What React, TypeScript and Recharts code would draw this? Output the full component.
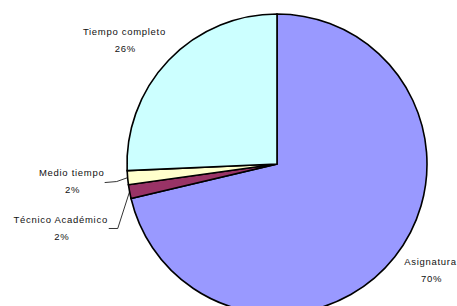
import React from "react";
import { PieChart, Pie, Cell } from "recharts";

const categories = ["Asignatura", "Técnico Académico", "Medio tiempo", "Tiempo completo"];
const values = [71.3, 1.5, 1.5, 25.7];
const percentLabels = ["70%", "2%", "2%", "26%"];
const colors = ["#9999FF", "#993366", "#FFFFCC", "#CCFFFF"];

const data = categories.map((name, i) => ({ name, value: values[i] }));

// label placement adjustments (dx, dy from polar point at outerRadius + 10)
const labelShift = [
  { dx: 28, dy: -2 },
  { dx: -59, dy: 26 },
  { dx: -46, dy: -6 },
  { dx: -37, dy: -22 },
];

const RADIAN = Math.PI / 180;

const renderLabel = (props: any) => {
  const { cx, cy, midAngle, outerRadius, index } = props;
  const r = outerRadius + 10;
  const px = cx + r * Math.cos(-midAngle * RADIAN);
  const py = cy + r * Math.sin(-midAngle * RADIAN);
  const s = labelShift[index];
  const x = px + s.dx;
  const y = py + s.dy;
  const ex = cx + outerRadius * Math.cos(-midAngle * RADIAN);
  const ey = cy + outerRadius * Math.sin(-midAngle * RADIAN);
  let leader: React.ReactNode = null;
  if (index === 1) {
    leader = (
      <polyline
        points={`${ex},${ey} ${x + 57},${y + 9} ${x + 48},${y + 9}`}
        fill="none"
        stroke="#000"
        strokeWidth={0.8}
      />
    );
  } else if (index === 2) {
    leader = (
      <polyline
        points={`${ex},${ey} ${x + 45},${y + 9} ${x + 33},${y + 10}`}
        fill="none"
        stroke="#000"
        strokeWidth={0.8}
      />
    );
  }
  return (
    <g key={`lbl-${index}`}>
      {leader}
      <text
        x={x}
        y={y}
        textAnchor="middle"
        dominantBaseline="central"
        fontFamily="'Liberation Sans', Arial, sans-serif"
        fontSize={9.5}
        letterSpacing={0.7}
        fill="#111"
      >
        {categories[index]}
      </text>
      <text
        x={x + 1}
        y={y + 17}
        textAnchor="middle"
        dominantBaseline="central"
        fontFamily="'Liberation Sans', Arial, sans-serif"
        fontSize={9.5}
        letterSpacing={0.7}
        fill="#111"
      >
        {percentLabels[index]}
      </text>
    </g>
  );
};

export default function App() {
  return (
    <div style={{ position: "absolute", left: 0, top: 0, width: 457, height: 306, background: "#fff" }}>
      <PieChart width={457} height={306} margin={{ top: 0, right: 0, bottom: 0, left: 0 }}>
        <Pie
          data={data}
          dataKey="value"
          cx={277}
          cy={164}
          outerRadius={150}
          startAngle={90}
          endAngle={-270}
          stroke="#000"
          strokeWidth={1.6}
          label={renderLabel}
          labelLine={false}
          isAnimationActive={false}
        >
          {data.map((d, i) => (
            <Cell key={d.name} fill={colors[i]} />
          ))}
        </Pie>
      </PieChart>
    </div>
  );
}
